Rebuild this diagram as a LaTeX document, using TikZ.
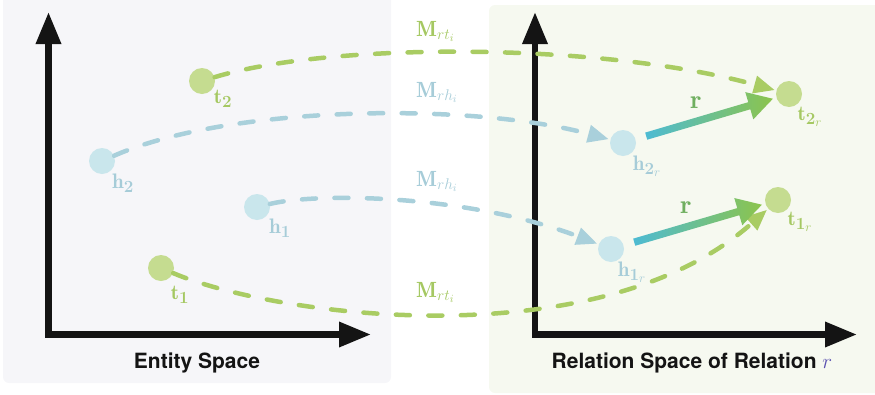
\RequirePackage{fix-cm}
\documentclass[tikz,border=0pt]{standalone}
\usepackage{fontspec}
\newfontfamily\heros{TeX Gyre Heros}
\usetikzlibrary{arrows.meta,calc,shapes.arrows}
\newcommand{\lblsub}[1]{\mbox{\fontsize{17}{17}\selectfont\bfseries #1}}
\newcommand{\lblssub}{\mbox{\fontsize{13}{13}\selectfont$r$}}
\definecolor{panelL}{HTML}{F6F6F9}
\definecolor{panelR}{HTML}{F6F9F0}
\definecolor{axisc}{HTML}{141414}
\definecolor{gnodec}{HTML}{C5DC90}
\definecolor{bnodec}{HTML}{C9E6EC}
\definecolor{gdashc}{HTML}{A9CC63}
\definecolor{bdashc}{HTML}{A9D0DB}
\definecolor{glblc}{HTML}{A5C862}
\definecolor{blblc}{HTML}{A6CCD8}
\definecolor{rlblc}{HTML}{6FAF5F}
\definecolor{rcyan}{HTML}{4DBBD3}
\definecolor{rgreen}{HTML}{8CC44C}
\definecolor{rtext}{HTML}{5A50B0}
\tikzset{
  panel/.style={rounded corners=6pt},
  axisline/.style={draw=axisc, line width=6.5pt, line join=miter,
    {Triangle[length=32pt 0 0,width=24pt 0 0]}-{Triangle[length=32pt 0 0,width=24pt 0 0]}},
  ent/.style={circle, minimum size=26pt, inner sep=0pt},
  gnode/.style={ent, fill=gnodec},
  bnode/.style={ent, fill=bnodec},
  dashcurve/.style={line width=4.5pt, line cap=round, dash pattern=on 14pt off 18.5pt,
    -{Triangle[length=21pt 0 0,width=17pt 0 0]}, shorten >=1.5pt},
  gdash/.style={dashcurve, draw=gdashc},
  bdash/.style={dashcurve, draw=bdashc},
  glbl/.style={text=glblc, inner sep=0pt, font=\fontsize{21}{25}\selectfont},
  blbl/.style={text=blblc, inner sep=0pt, font=\fontsize{21}{25}\selectfont},
  gM/.style={text=glblc, inner sep=0pt, anchor=base west, font=\fontsize{22}{26}\selectfont},
  bM/.style={text=blblc, inner sep=0pt, anchor=base west, font=\fontsize{22}{26}\selectfont},
  rlbl/.style={text=rlblc, inner sep=0pt, font=\fontsize{26}{30}\selectfont},
  rarrow/.style={single arrow, single arrow head extend=10.5pt, single arrow tip angle=60,
    inner xsep=0pt, inner ysep=3.5pt, draw=none, left color=rcyan, right color=rgreen, anchor=tail},
  title/.style={inner sep=0pt, font=\heros\bfseries\fontsize{21}{25}\selectfont, text=axisc}
}
\begin{document}
\begin{tikzpicture}[x=1pt,y=-1pt]
\useasboundingbox (0,0) rectangle (875,394);
% panels
\fill[panelL, panel] (3,-10) rectangle (391,383);
\fill[panelR, panel] (489,5) rectangle (885,393);
% axes
\coordinate (ly) at (48.5,12);
\coordinate (lo) at (48.5,334.5);
\coordinate (lx) at (371,334.5);
\coordinate (ry) at (535,12);
\coordinate (ro) at (535,334.5);
\coordinate (rx) at (857,334.5);
\draw[axisline] (ly) -- (lo) -- (lx);
\draw[axisline] (ry) -- (ro) -- (rx);
% entity nodes
\node[gnode] (t2) at (202,81) {};
\node[bnode] (h2) at (102,161) {};
\node[bnode] (h1) at (257,207) {};
\node[gnode] (t1) at (161,268) {};
\node[bnode] (h2r) at (623,143) {};
\node[gnode] (t2r) at (789,94) {};
\node[bnode] (h1r) at (611,249) {};
\node[gnode] (t1r) at (778,200) {};
% projections
\draw[gdash] (t2) .. controls (330,42) and (600,42) .. (t2r);
\draw[bdash] (h2) .. controls (230,105) and (470,102) .. (h2r);
\draw[bdash] (h1) .. controls (320,192) and (470,195) .. (h1r);
\draw[gdash] (t1) .. controls (280,318) and (600,358) .. (t1r);
% translation arrows r
\path let \p1=($(t2r)-(h2r)$), \n1={atan2(\y1,\x1)}, \n2={veclen(\x1,\y1)-41pt} in
  node[rarrow, rotate=\n1, minimum height=\n2] (ar2) at ($(h2r)!24pt!(t2r)$) {};
\path let \p1=($(t1r)-(h1r)$), \n1={atan2(\y1,\x1)}, \n2={veclen(\x1,\y1)-41pt} in
  node[rarrow, rotate=\n1, minimum height=\n2] (ar1) at ($(h1r)!24pt!(t1r)$) {};
\node[rlbl] (r2) at (696,103) {$\mathbf{r}$};
\node[rlbl] (r1) at (686,208) {$\mathbf{r}$};
% labels
\node[glbl] (t2l) at (223,99) {$\mathbf{t}_{\lblsub{2}}$};
\node[blbl] (h2l) at (123,183) {$\mathbf{h}_{\lblsub{2}}$};
\node[blbl] (h1l) at (280,228) {$\mathbf{h}_{\lblsub{1}}$};
\node[glbl] (t1l) at (180,295) {$\mathbf{t}_{\lblsub{1}}$};
\node[blbl] (h2rl) at (647,166) {$\mathbf{h}_{\lblsub{2}_{\lblssub}}$};
\node[glbl] (t2rl) at (810,117) {$\mathbf{t}_{\lblsub{2}_{\lblssub}}$};
\node[blbl] (h1rl) at (632,272) {$\mathbf{h}_{\lblsub{1}_{\lblssub}}$};
\node[glbl] (t1rl) at (800,222) {$\mathbf{t}_{\lblsub{1}_{\lblssub}}$};
\node[gM] (m1) at (416,36) {$\mathbf{M}_{rt_i}$};
\node[bM] (m2) at (416,97) {$\mathbf{M}_{rh_i}$};
\node[bM] (m3) at (416,186) {$\mathbf{M}_{rh_i}$};
\node[gM] (m4) at (416,297) {$\mathbf{M}_{rt_i}$};
% titles
\node[title] (es) at (197,363) {Entity Space};
\node[title] (rs) at (692,363) {Relation Space of Relation \textcolor{rtext}{$r$}};
\end{tikzpicture}
\end{document}
